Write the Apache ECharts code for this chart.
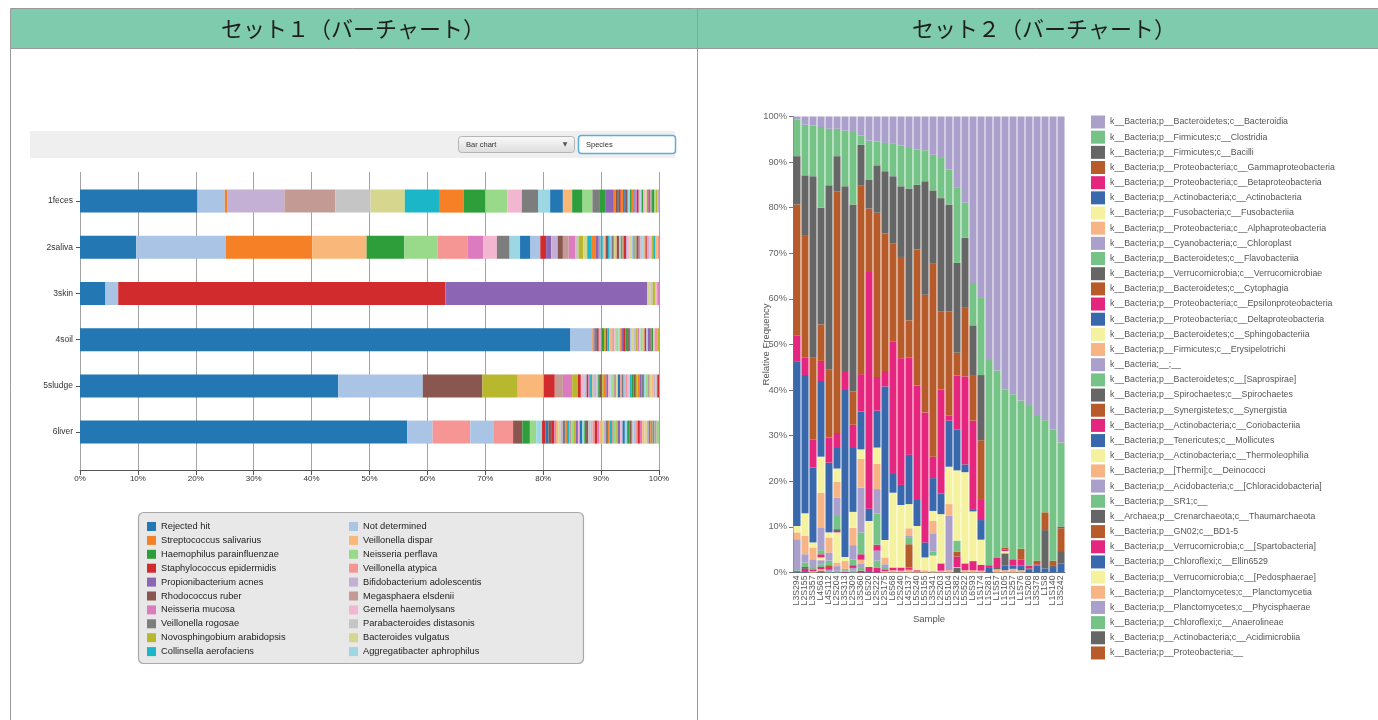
<!DOCTYPE html>
<html><head><meta charset="utf-8">
<script src="https://cdn.jsdelivr.net/npm/echarts@6/dist/echarts.min.js"></script>
<style>html,body{margin:0;padding:0;background:#fff}#c{width:1378px;height:720px}</style>
</head><body><div id="c"></div>
<script>
// ================= SET 1 (horizontal stacked bars) =================
const set1Samples = ['1feces','2saliva','3skin','4soil','5sludge','6liver'];
const set1Species = ['Rejected hit','Not determined','Streptococcus salivarius','Veillonella dispar',
  'Haemophilus parainfluenzae','Neisseria perflava','Staphylococcus epidermidis','Veillonella atypica',
  'Propionibacterium acnes','Bifidobacterium adolescentis','Rhodococcus ruber','Megasphaera elsdenii',
  'Neisseria mucosa','Gemella haemolysans','Veillonella rogosae','Parabacteroides distasonis',
  'Novosphingobium arabidopsis','Bacteroides vulgatus','Collinsella aerofaciens','Aggregatibacter aphrophilus'];
const set1Ticks = [0,10,20,30,40,50,60,70,80,90,100];
// per-sample segments (percent) and their taxon ids (ids beyond 19 are further species, colours cycle)
const fecesValues = [20.3,4.7,0.4,9.9,8.8,6.1,5.9,5.9,4.3,3.7,3.8,2.5,2.8,2.1,2.2,1.6,1.8,1.7,1.3,0.9,1.5,
  0.3,0.4,0.2,0.3,0.4,0.3,0.2,0.3,0.4,0.3,0.3,0.2,0.4,0.3,0.3,0.2,0.3,0.4,0.3,0.2,0.3,0.3,0.4,0.2,0.3,0.3];
const fecesTaxa = [0,1,2,9,11,15,17,18,22,24,25,33,34,39,40,43,44,45,54,64,68,
  62,70,74,66,82,60,88,90,79,84,102,80,72,86,99,61,104,93,77,106,108,91,124,85,76,89];
const salivaValues = [9.7,15.5,14.9,9.4,6.5,5.8,5.1,2.7,2.4,2.2,1.8,1.8,1.7,1.0,0.9,1.1,0.9,1.0,1.1,0.6,0.8,0.7,0.8,0.6,0.6,
  0.3,0.4,0.3,0.2,0.4,0.3,0.3,0.4,0.2,0.3,0.4,0.3,0.3,0.2,0.4,0.3,0.3,0.4,0.3,0.2,0.3,0.4,0.3,0.3,0.4,0.3,0.2,0.3,0.4,0.3,0.4,0.4,0.2];
const salivaTaxa = [0,1,2,3,4,5,7,12,13,14,19,20,21,26,28,29,30,31,32,35,36,37,38,42,48,
  51,58,63,67,70,78,81,94,97,103,110,115,118,122,126,129,133,137,141,144,147,150,152,155,159,162,166,169,173,176,178,183,187];
const skinValues = [4.4,2.2,56.5,34.9,0.5,0.4,0.4,0.4,0.3];
const skinTaxa = [0,1,6,8,17,35,56,73,92];
const soilValues = [84.7,3.8,
  0.2,0.2,0.4,0.3,0.3,0.2,0.4,0.3,0.3,0.3,0.4,0.2,0.3,0.3,0.4,0.3,0.2,0.3,0.4,0.3,
  0.3,0.2,0.3,0.4,0.3,0.3,0.3,0.2,0.4,0.3,0.3,0.3,0.4,0.2,0.3,0.3,0.4,0.3];
const soilTaxa = [0,1,202,208,214,206,209,212,204,216,210,218,203,211,207,213,205,219,222,228,226,224,
  230,234,221,237,229,236,232,239,225,243,246,241,248,250,244,253,247,256];
const sludgeValues = [44.6,14.6,10.3,6.1,4.5,1.9,1.4,1.6,1.0,0.5,0.6,
  0.4,0.3,0.3,0.4,0.3,0.4,0.3,0.3,0.4,0.3,0.4,0.3,0.4,0.3,0.3,0.4,0.3,0.4,0.3,0.3,
  0.4,0.3,0.4,0.3,0.3,0.4,0.3,0.4,0.3,0.4,0.3,0.3,0.4,0.3,0.4,0.3,0.3,0.3];
const sludgeTaxa = [0,1,10,16,3,6,11,12,36,46,53,
  301,306,312,318,303,309,315,304,310,316,302,308,313,319,305,311,317,300,307,314,
  321,327,333,338,324,330,336,322,328,334,339,325,331,337,323,329,335,326];
const liverValues = [56.5,4.4,6.5,4.1,3.3,1.6,1.3,1.1,1.0,0.6,0.5,0.6,
  0.4,0.3,0.4,0.4,0.4,0.4,0.3,0.4,0.4,0.3,0.4,0.4,0.3,0.4,0.4,0.3,0.4,0.4,0.3,0.4,
  0.4,0.4,0.4,0.3,0.4,0.4,0.3,0.4,0.3,0.4,0.3,0.4,0.4,0.4,0.4,0.4,0.4,0.3,0.3,0.4,
  0.4,0.4,0.4,0.4,0.3,0.3,0.4,0.3,0.4,0.4];
const liverTaxa = [0,1,7,21,27,10,4,5,19,6,20,30,
  406,412,403,417,409,414,402,418,411,405,416,408,413,400,419,404,410,415,401,407,
  426,432,423,437,429,434,422,438,431,425,436,428,433,420,439,424,430,435,421,427,
  446,452,443,457,449,454,442,458,451,445];

// ================= SET 2 (vertical stacked bars) =================
const set2Samples = ['L3S294','L2S155','L3S357','L4S63','L4S112','L2S204','L3S313','L2S309','L3S360','L6S20',
  'L2S222','L2S175','L6S68','L2S240','L4S137','L5S240','L5S155','L3S341','L2S203','L5S104','L2S382','L5S522',
  'L6S93','L1S174','L1S281','L1S57','L1S105','L1S257','L1S76','L1S208','L3S378','L1S8','L1S140','L3S242'];
const set2Classes = ['k__Bacteria;p__Bacteroidetes;c__Bacteroidia','k__Bacteria;p__Firmicutes;c__Clostridia',
  'k__Bacteria;p__Firmicutes;c__Bacilli','k__Bacteria;p__Proteobacteria;c__Gammaproteobacteria',
  'k__Bacteria;p__Proteobacteria;c__Betaproteobacteria','k__Bacteria;p__Actinobacteria;c__Actinobacteria',
  'k__Bacteria;p__Fusobacteria;c__Fusobacteriia','k__Bacteria;p__Proteobacteria;c__Alphaproteobacteria',
  'k__Bacteria;p__Cyanobacteria;c__Chloroplast','k__Bacteria;p__Bacteroidetes;c__Flavobacteriia',
  'k__Bacteria;p__Verrucomicrobia;c__Verrucomicrobiae','k__Bacteria;p__Bacteroidetes;c__Cytophagia',
  'k__Bacteria;p__Proteobacteria;c__Epsilonproteobacteria','k__Bacteria;p__Proteobacteria;c__Deltaproteobacteria',
  'k__Bacteria;p__Bacteroidetes;c__Sphingobacteriia','k__Bacteria;p__Firmicutes;c__Erysipelotrichi',
  'k__Bacteria;__;__','k__Bacteria;p__Bacteroidetes;c__[Saprospirae]','k__Bacteria;p__Spirochaetes;c__Spirochaetes',
  'k__Bacteria;p__Synergistetes;c__Synergistia','k__Bacteria;p__Actinobacteria;c__Coriobacteriia',
  'k__Bacteria;p__Tenericutes;c__Mollicutes','k__Bacteria;p__Actinobacteria;c__Thermoleophilia',
  'k__Bacteria;p__[Thermi];c__Deinococci','k__Bacteria;p__Acidobacteria;c__[Chloracidobacteria]',
  'k__Bacteria;p__SR1;c__','k__Archaea;p__Crenarchaeota;c__Thaumarchaeota','k__Bacteria;p__GN02;c__BD1-5',
  'k__Bacteria;p__Verrucomicrobia;c__[Spartobacteria]','k__Bacteria;p__Chloroflexi;c__Ellin6529',
  'k__Bacteria;p__Verrucomicrobia;c__[Pedosphaerae]','k__Bacteria;p__Planctomycetes;c__Planctomycetia',
  'k__Bacteria;p__Planctomycetes;c__Phycisphaerae','k__Bacteria;p__Chloroflexi;c__Anaerolineae',
  'k__Bacteria;p__Actinobacteria;c__Acidimicrobiia','k__Bacteria;p__Proteobacteria;__'];
const set2Ticks = [0,10,20,30,40,50,60,70,80,90,100];
const bacteroidia = [0.7,1.8,2.0,2.3,2.7,2.7,3.1,3.4,4.2,5.3,5.5,5.8,6.0,6.4,6.7,7.2,7.4,8.4,8.9,11.6,15.5,18.9,36.5,39.6,53.4,55.7,59.8,60.9,62.3,63.5,65.7,66.6,68.6,71.5];
const clostridia = [8.0,11.1,11.1,17.7,12.4,6.0,12.2,15.9,2.0,8.5,5.2,6.2,7.1,8.9,9.1,7.8,6.8,7.8,9.0,7.7,16.6,7.7,9.3,17.1,45.0,41.1,34.7,36.2,32.5,35.0,31.7,20.2,28.8,18.4];
const bacilli = [10.6,13.1,39.8,25.6,40.3,7.7,40.5,41.0,8.9,6.4,10.4,13.7,14.8,15.5,28.9,14.2,24.9,16.1,24.8,23.5,19.7,15.2,10.9,14.3,0,0,0,0,0,0,0,0,0,0.4];
const gammaproteobacteria = [28.7,26.9,17.9,8.0,15.0,53.0,0,7.3,41.4,13.9,36.0,30.1,21.5,22.2,8.2,29.8,25.8,42.3,17.2,22.8,5.0,15.2,10.0,12.9,0,0,0.5,0,2.4,0,0.8,3.9,1.0,5.0];
const betaproteobacteria = [5.7,3.8,6.2,4.4,5.5,3.3,4.2,5.1,8.2,51.9,7.4,3.4,29.0,27.8,21.3,25.1,28.5,4.7,22.8,1.1,11.8,19.3,19.4,4.6,0.6,2.0,0.3,1.4,1.3,0.6,0.3,0,0,0];
const actinobacteria = [36.1,30.3,16.4,16.6,15.3,4.5,36.6,14.0,8.3,2.7,8.1,33.7,4.1,4.4,10.8,5.7,3.3,7.2,4.5,10.1,9.0,1.7,0.5,4.3,1.0,0,0,0.7,1.0,0,1.5,0,0,0];
const fusobacteriia = [1.4,5.0,1.1,7.9,1.1,2.9,0.9,3.5,2.1,10.1,3.6,3.8,16.4,13.7,5.3,9.7,2.8,2.2,10.8,8.2,15.4,20.0,10.9,5.5,0,0,0.5,0,0,0,0,0,0,0];
const alphaproteobacteria = [1.5,4.0,2.6,7.6,3.3,3.5,1.7,3.8,6.3,0,5.5,1.5,0,0,1.7,0,0,2.7,0,2.5,0,0,0,0,0,0,0,0.8,0.5,0,0,0,0,0];
const chloroplast = [6.8,1.8,1.7,5.0,1.8,3.8,0.3,3.2,9.8,0,5.4,0.6,0,0,0.4,0,0,4.0,0,12.0,0,0,0,0,0,0,0,0,0,0,0,0,0,0];
const flavobacteriia = [0.2,1.0,0.5,0.9,1.0,3.1,0.3,1.2,4.8,0,6.8,0.5,0,0,1.4,0,0,0.9,0,0,2.4,0,0,0,0,0,0,0,0,0,0,0,0,0];
const verrucomicrobiae = [0,0.4,0,0,0,0.4,0,0,0,0,0,0,0,0,0,0,0,0,0,0,0,0,0,0,0,0.5,2.7,0,0,0.3,0,8.4,0.4,2.7];
const cytophagia = [0,0,0,0,0.4,0,0,0,0,0,0.3,0,0,0,5.1,0,0,0,0,0,1.1,0,0,0,0,0,0,0,0,0,0,0,0,0];
const epsilonproteobacteria = [0.2,0.5,0.4,0.7,0.6,0.3,0.2,0.6,1.2,0.9,1.0,0.4,0.6,0.7,0.5,0.3,0,0,1.6,0,2.3,1.5,2.0,1.3,0,0,0,0,0,0,0,0,0,0];
const deltaproteobacteria = [0.1,0.3,0,0,0,0,0,0,0,0.3,0,0,0,0,0,0,0,0,0,0,0,0,0,0,0,0,1.0,0,0,0.6,0,0.9,1.2,2.0];
const sphingobacteriia = [0,0,0,0.6,0,6.6,0,0,0,0,0,0,0,0,0,0,0,3.3,0,0,0,0,0,0,0,0,0,0,0,0,0,0,0,0];
const erysipelotrichi = [0,0,0.3,0,0,0.8,0,0,0.8,0,0,0.3,0.5,0.4,0.6,0.2,0.5,0.4,0.4,0.5,0.2,0.5,0.5,0.4,0,0.7,0.5,0,0,0,0,0,0,0];
const unassigned = [0,0,0,0.9,0.3,1.0,0,0.6,1.0,0,2.2,0,0,0,0,0,0,0,0,0,0,0,0,0,0,0,0,0,0,0,0,0,0,0];
const saprospirae = [0,0,0,0.6,0.3,0.4,0,0.4,0.6,0,1.6,0,0,0,0,0,0,0,0,0,0,0,0,0,0,0,0,0,0,0,0,0,0,0];
const spirochaetes = [0,0,0,0,0,0,0,0,0,0,0,0,0,0,0,0,0,0,0,0,1.0,0,0,0,0,0,0,0,0,0,0,0,0,0];
const coriobacteriia = [0,0,0,0.5,0,0,0,0,0.4,0,1.0,0,0,0,0,0,0,0,0,0,0,0,0,0,0,0,0,0,0,0,0,0,0,0];
const deinococci = [0,0,0,0.4,0,0,0,0,0,0,0,0,0,0,0,0,0,0,0,0,0,0,0,0,0,0,0,0,0,0,0,0,0,0];
const thaumarchaeota = [0,0,0,0.3,0,0,0,0,0,0,0,0,0,0,0,0,0,0,0,0,0,0,0,0,0,0,0,0,0,0,0,0,0,0];

// ================= build =================
const FONT = '"Liberation Sans", Arial, sans-serif';
const pal20 = ['#2377b2','#a9c4e4','#f58025','#f9b77a','#2e9e3a','#98d98a','#d22b2e','#f59694','#8c66b5','#c3b0d4',
  '#8a5750','#c39b94','#dc7bbe','#f3b6d0','#7d7d7d','#c5c5c5','#b7b82d','#d7d68e','#1bb6c7','#9dd7e3'];
const accent8 = ['#ab9fcb','#76c387','#666666','#b85b2b','#e4267f','#3a68ad','#f4f29e','#f7b585'];

const set1Rows = [fecesValues,salivaValues,skinValues,soilValues,sludgeValues,liverValues];
const set1Ids = [fecesTaxa,salivaTaxa,skinTaxa,soilTaxa,sludgeTaxa,liverTaxa];
const series = [];
const maxSeg = Math.max(...set1Rows.map(r => r.length));
for (let k = 0; k < maxSeg; k++) {
  series.push({
    type:'bar', name:'seg'+k, stack:'s1', xAxisIndex:0, yAxisIndex:0, barWidth:23, silent:true,
    data: set1Rows.map((r,i) => k < r.length ? {value:r[k], itemStyle:{color:pal20[set1Ids[i][k] % 20]}} : '-')
  });
}
set1Species.forEach((n,i) => series.push({type:'bar', name:n, stack:'s1', xAxisIndex:0, yAxisIndex:0,
  barWidth:23, data:[], itemStyle:{color:pal20[i]}}));

const set2Values = [bacteroidia,clostridia,bacilli,gammaproteobacteria,betaproteobacteria,actinobacteria,
  fusobacteriia,alphaproteobacteria,chloroplast,flavobacteriia,verrucomicrobiae,cytophagia,epsilonproteobacteria,
  deltaproteobacteria,sphingobacteriia,erysipelotrichi,unassigned,saprospirae,spirochaetes,[],coriobacteriia,
  [],[],deinococci,[],[],thaumarchaeota,[],[],[],[],[],[],[],[],[]];
for (let c = set2Classes.length - 1; c >= 0; c--) {
  series.push({type:'bar', name:set2Classes[c], stack:'s2', xAxisIndex:2, yAxisIndex:2, barCategoryGap:'12%',
    silent:true, data:set2Values[c], itemStyle:{color:accent8[c % 8]}});
}

const grad = new echarts.graphic.LinearGradient(0,0,0,1,[{offset:0,color:'#fafafa'},{offset:1,color:'#dcdcdc'}]);
const option = {
  animation:false, backgroundColor:'#ffffff', textStyle:{fontFamily:FONT},
  grid:[
    {left:80, width:579, top:178, height:277.2},
    {left:80, width:579, top:172, height:298},
    {left:793, width:272, top:116.5, height:456}
  ],
  xAxis:[
    {gridIndex:0, type:'value', min:0, max:100, show:false},
    {gridIndex:1, type:'value', min:set1Ticks[0], max:set1Ticks[set1Ticks.length-1], interval:set1Ticks[1]-set1Ticks[0],
      axisLine:{show:true, lineStyle:{color:'#555'}}, axisTick:{show:true, length:5, lineStyle:{color:'#555'}},
      axisLabel:{formatter:'{value}%', fontSize:8, color:'#333', margin:5},
      splitLine:{show:true, lineStyle:{color:'#a3a3a3', width:1}}},
    {gridIndex:2, type:'category', data:set2Samples,
      axisLine:{lineStyle:{color:'#777'}}, axisTick:{alignWithLabel:true, length:3, lineStyle:{color:'#777'}},
      axisLabel:{rotate:90, interval:0, fontSize:8.7, color:'#555', margin:3},
      name:'Sample', nameLocation:'middle', nameGap:42, nameMoveOverlap:false, nameTextStyle:{fontSize:9.5, color:'#555'}}
  ],
  yAxis:[
    {gridIndex:0, type:'category', data:set1Samples, inverse:true, axisLine:{show:false},
      axisTick:{show:true, alignWithLabel:true, length:4, lineStyle:{color:'#555'}},
      axisLabel:{fontSize:8.5, color:'#333', margin:7}},
    {gridIndex:1, type:'value', show:false, min:0, max:1},
    {gridIndex:2, type:'value', min:set2Ticks[0], max:set2Ticks[set2Ticks.length-1], interval:set2Ticks[1]-set2Ticks[0],
      axisLine:{show:true, lineStyle:{color:'#777'}}, axisTick:{show:true, length:4, lineStyle:{color:'#777'}},
      axisLabel:{formatter:'{value}%', fontSize:9.3, color:'#666', margin:6}, splitLine:{show:false},
      name:'Relative Frequency', nameLocation:'middle', nameGap:22, nameMoveOverlap:false,
      nameTextStyle:{fontSize:9.5, color:'#555'}}
  ],
  legend:[
    {data:set1Species.filter((_,i)=>i%2===0), orient:'vertical', left:142, top:517, itemWidth:9, itemHeight:9,
      itemGap:4.9, icon:'rect', selectedMode:false, textStyle:{fontSize:9.3, color:'#222', lineHeight:9}},
    {data:set1Species.filter((_,i)=>i%2===1), orient:'vertical', left:344, top:517, itemWidth:9, itemHeight:9,
      itemGap:4.9, icon:'rect', selectedMode:false, textStyle:{fontSize:9.3, color:'#222', lineHeight:9}},
    {data:set2Classes, orient:'vertical', left:1086, top:110.5, itemWidth:14, itemHeight:13, itemGap:2.17,
      icon:'rect', selectedMode:false, textStyle:{fontSize:8.8, color:'#555', lineHeight:13}}
  ],
  graphic:{elements:[
    {type:'rect', shape:{x:10.5, y:8.5, width:1368, height:40}, style:{fill:'#7ecbad', stroke:'#9a9a9a', lineWidth:1}},
    {type:'line', shape:{x1:10.5, y1:48.5, x2:10.5, y2:720}, style:{stroke:'#9a9a9a', lineWidth:1}},
    {type:'line', shape:{x1:697.5, y1:8.5, x2:697.5, y2:720}, style:{stroke:'#9a9a9a', lineWidth:1}},
    {type:'text', x:353, y:29, style:{text:'セット１（バーチャート）', font:'22px "Noto Sans CJK JP"', fill:'#1e1e1e', align:'center', verticalAlign:'middle'}},
    {type:'text', x:1044, y:29, style:{text:'セット２（バーチャート）', font:'22px "Noto Sans CJK JP"', fill:'#1e1e1e', align:'center', verticalAlign:'middle'}},
    {type:'rect', shape:{x:30, y:131, width:645, height:27}, style:{fill:'#efefef'}},
    {type:'rect', shape:{x:458.5, y:136.5, width:116, height:16, r:3}, style:{fill:grad, stroke:'#b5b5b5', lineWidth:1}},
    {type:'text', x:466, y:144.5, style:{text:'Bar chart', font:'7.5px "Liberation Sans"', fill:'#333', verticalAlign:'middle'}},
    {type:'text', x:565, y:144.5, style:{text:'▼', font:'6px "DejaVu Sans"', fill:'#555', align:'center', verticalAlign:'middle'}},
    {type:'rect', shape:{x:578.5, y:135.5, width:97, height:18, r:3}, style:{fill:'#ffffff', stroke:'#5eabdc', lineWidth:1.5}},
    {type:'text', x:586, y:144.5, style:{text:'Species', font:'7.5px "Liberation Sans"', fill:'#333', verticalAlign:'middle'}},
    {type:'rect', shape:{x:138.5, y:512.5, width:445, height:151, r:5}, style:{fill:'#e8e8e8', stroke:'#a9a9a9', lineWidth:1.2}}
  ]},
  series: series
};
const chart = echarts.init(document.getElementById('c'), null, {renderer:'canvas', width:1378, height:720});
chart.setOption(option);
</script>
</body></html>
